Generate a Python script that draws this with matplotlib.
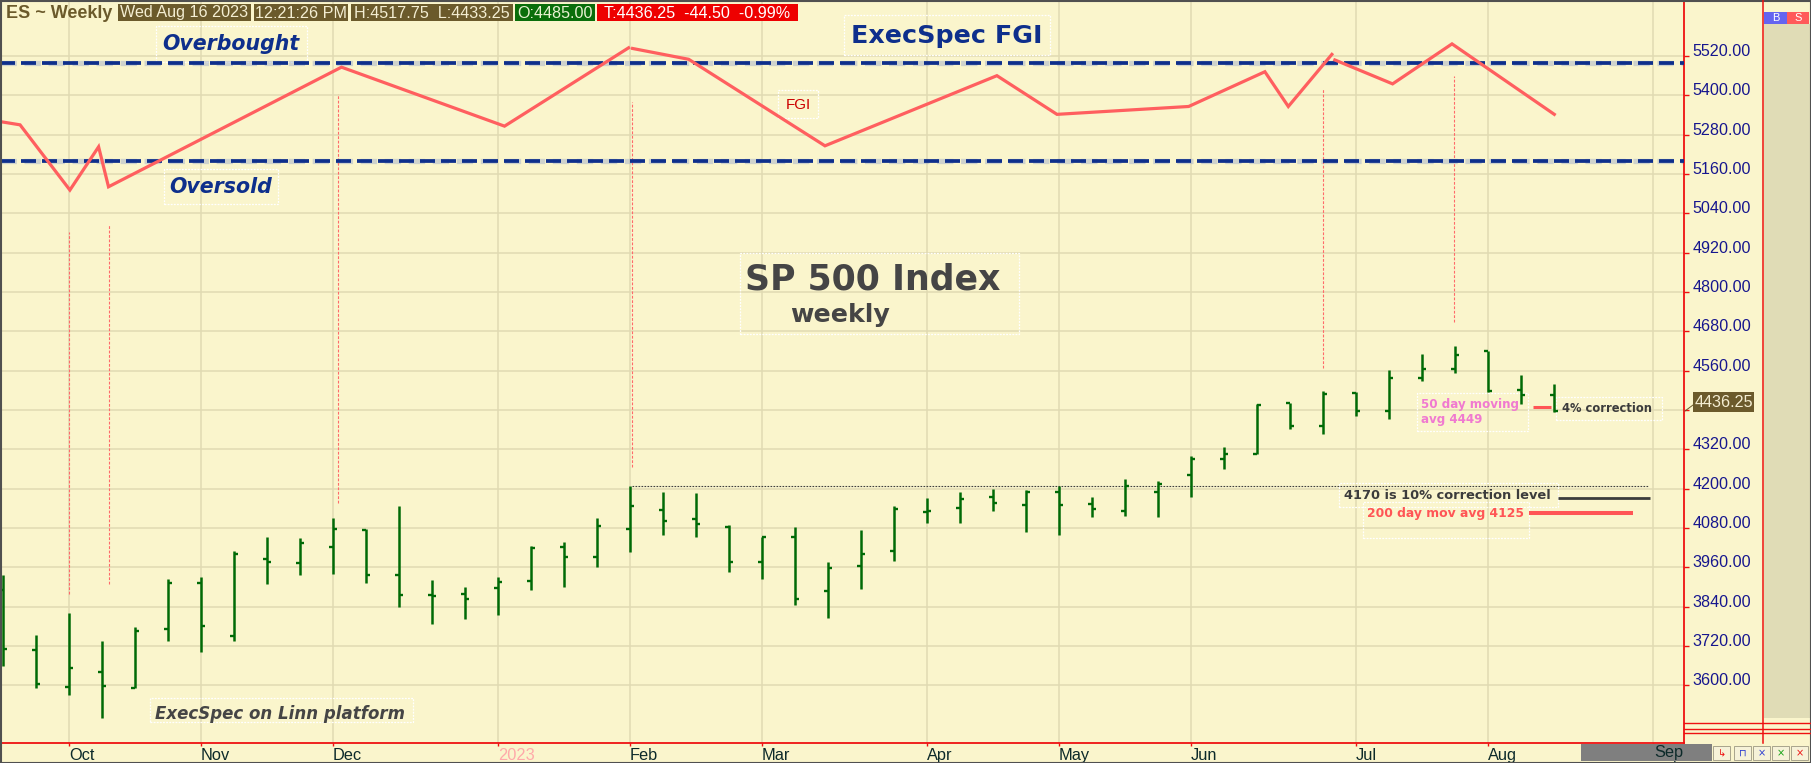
import matplotlib
matplotlib.use('Agg')
import matplotlib.pyplot as plt
from matplotlib.patches import Rectangle
from matplotlib.lines import Line2D

W, H = 1811, 763
BG = '#faf5cc'
GRID = '#e0dab2'
RED = '#ee1111'
NAVY = '#0e2f8c'
FGI_RED = '#ff5f5f'
BAR_GREEN = '#006a06'

# ---------------- data ----------------
# weekly OHLC bars (x = week index, 0 = week ending Sep 23 2022)
bar_open = [3892, 3709, 3596, 3642, 3592, 3772, 3913, 3751, 3986, 3974,
            4023, 4075, 3935, 3877, 3880, 3898, 3919, 4023, 3990, 4078,
            4136, 4106, 4084, 3977, 4051, 3889, 3965, 4011, 4129, 4142,
            4176, 4151, 4191, 4154, 4133, 4189, 4242, 4289, 4306, 4460,
            4392, 4493, 4438, 4539, 4565, 4621, 4501, 4485]
bar_high = [3937, 3752, 3820, 3735, 3777, 3923, 3930, 4009, 4053, 4048,
            4111, 4076, 4147, 3921, 3900, 3930, 4024, 4037, 4111, 4208,
            4190, 4187, 4088, 4052, 4082, 3975, 4074, 4148, 4172, 4190,
            4199, 4195, 4207, 4175, 4230, 4222, 4299, 4327, 4457, 4460,
            4497, 4494, 4561, 4610, 4635, 4621, 4546, 4518]
bar_low = [3660, 3593, 3571, 3501, 3591, 3736, 3703, 3736, 3910, 3938,
           3941, 3913, 3840, 3788, 3803, 3813, 3892, 3901, 3962, 4008,
           4059, 4053, 3946, 3925, 3846, 3806, 3895, 3980, 4096, 4096,
           4133, 4068, 4060, 4112, 4118, 4112, 4173, 4260, 4306, 4381,
           4368, 4421, 4412, 4527, 4552, 4495, 4457, 4433]
bar_close = [3712, 3604, 3653, 3599, 3767, 3913, 3782, 4002, 3976, 4035,
             4077, 3938, 3874, 3871, 3863, 3915, 4020, 3990, 4086, 4148,
             4102, 4091, 3977, 4051, 3864, 3959, 4002, 4139, 4133, 4167,
             4157, 4191, 4151, 4139, 4207, 4214, 4289, 4306, 4456, 4392,
             4490, 4437, 4538, 4566, 4608, 4498, 4486, 4436]

month_pos = [2, 6, 10, 15, 19, 23, 28, 32, 36, 41, 45, 50]
month_labels = ['Oct', 'Nov', 'Dec', '2023', 'Feb', 'Mar', 'Apr', 'May',
                'Jun', 'Jul', 'Aug', 'Sep']
price_ticks = [3600, 3720, 3840, 3960, 4080, 4200, 4320, 4440, 4560,
               4680, 4800, 4920, 5040, 5160, 5280, 5400, 5520]

# FGI line (drawn on price scale), three trendline segments
fgi_x_a = [-0.09, 0.52, 2.03, 2.90, 3.20, 10.26, 15.20, 18.96]
fgi_v_a = [5320, 5310, 5111, 5243, 5121, 5486, 5306, 5545]
fgi_x_b = [19.08, 20.78, 24.91, 30.12, 31.94, 35.93, 38.24, 38.95, 40.27]
fgi_v_b = [5543, 5510, 5246, 5460, 5342, 5366, 5472, 5366, 5525]
fgi_x_c = [40.36, 42.11, 43.91, 47.01]
fgi_v_c = [5508, 5435, 5557, 5342]

overbought_level = 5500
oversold_level = 5200

# vertical dotted connectors: x, top, bottom
conn_x = [2.01, 3.23, 10.14, 19.05, 39.99, 43.97]
conn_top = [4984, 5006, 5403, 5379, 5423, 5459]
conn_bot = [3880, 3910, 4155, 4265, 4567, 4708]

feb_high_level = 4208
ma50_level = 4449
corr10_level = 4170
ma200_level = 4125
last_price = 4436.25

# ---------------- figure ----------------
fig = plt.figure(figsize=(W / 100, H / 100), dpi=100, facecolor=BG)
ax_bottom_px = 743.3
axes_right_px = 1684
ax = fig.add_axes([0, (H - ax_bottom_px) / H, axes_right_px / W, ax_bottom_px / H])
ax.set_facecolor(BG)
ax.set_xlim(-0.088, 50.94)
ax.set_ylim(3423.0, 5690.9)

ax.set_xticks(month_pos)
ax.set_xticklabels(month_labels)
ax.set_yticks(price_ticks)
ax.set_yticklabels([f"{v:.2f}" for v in price_ticks])
ax.grid(True, color=GRID, lw=1.1, zorder=0)
ax.set_axisbelow(True)

ax.yaxis.tick_right()
ax.tick_params(axis='y', direction='out', length=3.3, width=1, color=RED,
               pad=2.8, labelsize=11.6, labelcolor='#16168e',
               right=True, left=False, labelright=True, labelleft=False)
ax.tick_params(axis='x', direction='out', length=2.2, width=1, color=RED,
               pad=1.2, labelsize=11.8, labelcolor='#0c2a2a')
for lbl in ax.get_yticklabels():
    lbl.set_fontfamily(['Liberation Sans', 'DejaVu Sans'])
    lbl.set_verticalalignment('baseline')
for lbl in ax.get_xticklabels():
    lbl.set_fontfamily(['Liberation Sans', 'DejaVu Sans'])
    lbl.set_horizontalalignment('left')
    if lbl.get_text() == '2023':
        lbl.set_color('#ffaaaa')

for s in ['right', 'bottom']:
    ax.spines[s].set_color(RED)
    ax.spines[s].set_linewidth(1.3)
for s in ['left', 'top']:
    ax.spines[s].set_color('#505050')
    ax.spines[s].set_linewidth(1.5)


# ---------------- helpers in reference pixel coordinates ----------------
def rect_xywh(x0, y0, x1, y1):
    return (x0 / W, 1 - y1 / H), (x1 - x0) / W, (y1 - y0) / H


def prect(x0, y0, x1, y1, **kw):
    xy, w, h = rect_xywh(x0, y0, x1, y1)
    r = Rectangle(xy, w, h, transform=fig.transFigure, **kw)
    fig.add_artist(r)
    return r


def arect(x0, y0, x1, y1, **kw):
    # rectangle in pixel space but drawn inside the axes z-stack
    xy, w, h = rect_xywh(x0, y0, x1, y1)
    r = Rectangle(xy, w, h, transform=fig.transFigure, clip_on=False, **kw)
    ax.add_patch(r)
    return r


def ptext(x, y, s, **kw):
    return fig.text(x / W, 1 - y / H, s, **kw)


def pline(xs_, ys_, **kw):
    fig.add_artist(Line2D([x / W for x in xs_], [1 - y / H for y in ys_],
                          transform=fig.transFigure, **kw))


# annotation boxes (white dotted borders) placed beneath the chart lines
boxes = [(156, 26, 307, 62), (164, 169, 278, 204), (844, 15, 1050, 55),
         (778, 90, 818, 118), (740, 253, 1019, 334), (150, 698, 413, 722),
         (1417, 393, 1528, 431), (1556, 397, 1662, 420),
         (1339, 483, 1558, 507), (1363, 502, 1529, 538)]
for x0, y0, x1, y1 in boxes:
    arect(x0, y0, x1, y1, facecolor='none', edgecolor='white', lw=0.9,
          linestyle=(0, (1.5, 1.0)), zorder=1.5)

# overbought / oversold dashed lines
for lvl in (overbought_level, oversold_level):
    ax.axhline(lvl, color='#9aa8cc', lw=3.8, dashes=(3.1, 1.45), alpha=0.45, zorder=2)
    ax.axhline(lvl, color=NAVY, lw=2.7, dashes=(4.0, 1.6), zorder=3)

# vertical dotted connectors
ax.vlines(conn_x, conn_bot, conn_top, colors='#ff6a6a', lw=0.8,
          linestyles=(0, (2.5, 1.5)), zorder=2)

# FGI
for xs, vs in ((fgi_x_a, fgi_v_a), (fgi_x_b, fgi_v_b), (fgi_x_c, fgi_v_c)):
    ax.plot(xs, vs, color=FGI_RED, lw=2.3, solid_joinstyle='miter', zorder=4)

# OHLC bars
xs = list(range(len(bar_open)))
tick_len = 0.13
ax.vlines(xs, bar_low, bar_high, colors=BAR_GREEN, lw=1.8, zorder=5)
ax.hlines(bar_open, [x - tick_len for x in xs], xs, colors=BAR_GREEN, lw=1.7, zorder=5)
ax.hlines(bar_close, xs, [x + tick_len for x in xs], colors=BAR_GREEN, lw=1.7, zorder=5)

# reference / level lines
ax.hlines(feb_high_level, 19.07, 49.84, colors='#404040', lw=0.8,
          linestyles=(0, (1.5, 1.2)), zorder=3)
ax.hlines(ma50_level, 46.36, 46.90, colors='#ff5555', lw=2.2, zorder=4)
ax.hlines(corr10_level, 47.12, 49.91, colors='#3c3c3c', lw=2.0, zorder=4)
ax.hlines(ma200_level, 46.25, 49.40, colors='#ff5555', lw=2.9, zorder=4)

LIB = ['Liberation Sans', 'DejaVu Sans']

# header
ptext(6, 13, 'ES ~ Weekly', fontsize=13, color='#6b5a2b', fontweight='bold',
      family=LIB, va='center', ha='left')
hdr = [(118, 251, 'Wed Aug 16 2023', '#6b5a2b', '#f4eed2'),
       (254, 348, '12:21:26 PM', '#6b5a2b', '#f4eed2'),
       (351, 513, 'H:4517.75  L:4433.25', '#6b5a2b', '#f4eed2'),
       (515, 595, 'O:4485.00', '#0a6e0a', '#eaf2d2'),
       (597, 798, 'T:4436.25  -44.50  -0.99%', '#ee0000', '#ffffff')]
for x0, x1, s, fc, tc in hdr:
    prect(x0, 4, x1, 21, facecolor=fc, edgecolor='none', zorder=5)
    ptext((x0 + x1) / 2, 13, s, fontsize=11.6, color=tc, family=LIB,
          ha='center', va='center', zorder=6)

ptext(231, 44, 'Overbought', fontsize=14.8, color=NAVY, fontweight='bold',
      fontstyle='italic', ha='center', va='center')
ptext(221, 187, 'Oversold', fontsize=14.8, color=NAVY, fontweight='bold',
      fontstyle='italic', ha='center', va='center')
ptext(947, 36, 'ExecSpec FGI', fontsize=18.3, color=NAVY, fontweight='bold',
      ha='center', va='center')
ptext(798, 105, 'FGI', fontsize=11, color='#cc0000', ha='center', va='center',
      family=LIB)
ptext(873, 279, 'SP 500 Index', fontsize=25, color='#454545', fontweight='bold',
      ha='center', va='center')
ptext(840, 315, 'weekly', fontsize=18.3, color='#454545', fontweight='bold',
      ha='center', va='center')
ptext(280, 714, 'ExecSpec on Linn platform', fontsize=12, color='#454545',
      fontweight='bold', fontstyle='italic', ha='center', va='center')
ptext(1421, 412, '50 day moving\navg 4449', fontsize=8.6, color='#f07ad0',
      fontweight='bold', ha='left', va='center', linespacing=1.25)
ptext(1562, 408, '4% correction', fontsize=8.3, color='#3c3c3c',
      fontweight='bold', ha='left', va='center')
ptext(1344, 496, '4170 is 10% correction level', fontsize=9.4, color='#3c3c3c',
      fontweight='bold', ha='left', va='center')
ptext(1367, 513, '200 day mov avg 4125', fontsize=8.9, color='#ff5555',
      fontweight='bold', ha='left', va='center')

# last price marker
pline([1685, 1693], [411, 405], color='#6b5a2b', lw=0.7)
prect(1693, 392, 1754, 412, facecolor='#6b5a2b', edgecolor='none', zorder=5)
ptext(1723.5, 402, f"{last_price:.2f}", fontsize=11.6, color='#f4eed2',
      family=LIB, ha='center', va='center', zorder=6)

# right-hand strip and decorations
pline([1763, 1763], [0, 743], color=RED, lw=1.1)
prect(1764, 24, 1811, 718, facecolor='#e0dcb6', edgecolor='none')
prect(1764, 12, 1787, 24, facecolor='#6464f0', edgecolor='none')
prect(1787, 12, 1809, 24, facecolor='#ff5a5a', edgecolor='none')
ptext(1775.5, 18, 'B', fontsize=8, color='white', family=LIB, ha='center', va='center')
ptext(1798, 18, 'S', fontsize=8, color='white', family=LIB, ha='center', va='center')
for yy in (723, 728.7, 733.3):
    pline([1684, 1811], [yy, yy], color=RED, lw=1.0)

# bottom-right grey block and small buttons
prect(1581, 744, 1712, 761, facecolor='#7f7f7f', edgecolor='none', zorder=0.5)
ptext(1654, 752.5, 'Sep', fontsize=11.8, color='#0c2a2a', family=LIB,
      ha='left', va='center', zorder=3)
btns = [(1713, '↳', '#ee1111'), (1734, '⊓', '#2a3ad0'), (1753, '×', '#2a3ad0'),
        (1772, '×', '#10a010'), (1791, '×', '#ee1111')]
for bx, sym, col in btns:
    prect(bx, 746, bx + 17, 760, facecolor='#f6f2d8', edgecolor='#a8a48c', lw=0.7)
    ptext(bx + 8.5, 753, sym, fontsize=7, color=col, ha='center', va='center')

# outer frame
prect(0.5, 0.5, W - 0.5, H - 0.5, facecolor='none', edgecolor='#505050', lw=1.5)

fig.savefig('out.png', dpi=100, facecolor=BG)
